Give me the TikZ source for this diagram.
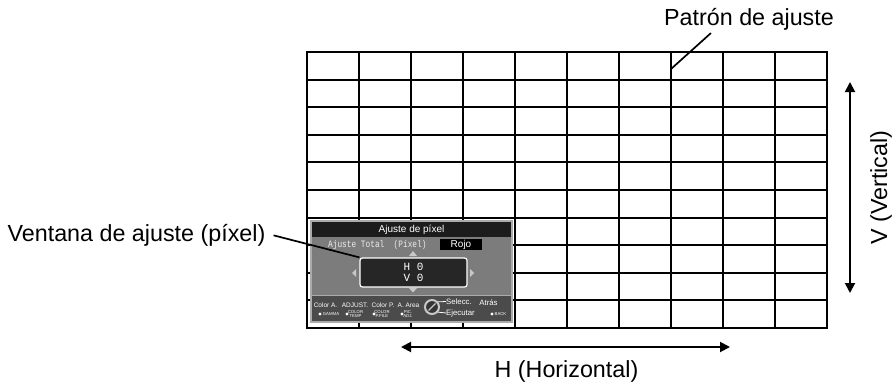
\documentclass[tikz,border=0pt]{standalone}
\usepackage{fontspec}
\setmainfont{Liberation Sans}
\setmonofont{Liberation Mono}
\usetikzlibrary{arrows.meta,positioning}
\definecolor{MenuBar}{HTML}{1C1C1C}
\definecolor{MenuBody}{HTML}{7C7C7C}
\definecolor{MenuFoot}{HTML}{4B4B4B}
\definecolor{MenuEdge}{HTML}{ABABAB}
\definecolor{MenuText}{HTML}{EDEDED}
\definecolor{MenuArrow}{HTML}{C8C8C8}
\definecolor{MenuField}{HTML}{262626}
\tikzset{
  callout/.style={font=\fontsize{23.3}{27}\selectfont,inner sep=0pt},
  leader/.style={line width=1.7pt},
  dimarrow/.style={{Triangle[length=10pt,width=10pt]}-{Triangle[length=10pt,width=10pt]},line width=1.9pt},
  gridline/.style={line width=2pt},
  menutitle/.style={text=white,font=\fontsize{10}{12}\selectfont,inner sep=0pt},
  menumono/.style={text=MenuText,font=\ttfamily\fontsize{7.8}{9}\selectfont,inner sep=0pt,yscale=1.25},
  colorbox/.style={fill=black,text=white,font=\fontsize{10}{12}\selectfont,
    minimum width=42pt,minimum height=11pt,inner sep=0pt},
  adjbox/.style={draw=white,line width=1.2pt,fill=MenuField,rounded corners=2.5pt,
    minimum width=107pt,minimum height=29pt,inner sep=0pt,align=center,
    text=white,font=\ttfamily\fontsize{11}{11}\selectfont},
  keytext/.style={text=white,font=\fontsize{6.5}{7}\selectfont,inner sep=0pt},
  keybig/.style={text=white,font=\fontsize{7.8}{9}\selectfont,inner sep=0pt},
  keysub/.style={text=white,font=\fontsize{4.3}{4.4}\selectfont,inner sep=0pt,align=center},
  dial/.style={circle,draw=MenuArrow,line width=2pt,fill=MenuFoot!70!black,
    minimum size=14pt,inner sep=0pt}
}
\begin{document}
\begin{tikzpicture}[x=1pt,y=-1pt]
  \useasboundingbox (0,0) rectangle (894,383);
  % grid pattern
  \foreach \i in {1,...,9}{
    \draw[gridline] ({307+52*\i},52) -- ({307+52*\i},328);
    \draw[gridline] (307,{52+27.6*\i}) -- (827,{52+27.6*\i});
  }
  \draw[gridline] (307,52) rectangle (827,328);
  % adjustment window
  \fill[MenuEdge] (310,220) rectangle (513,323);
  \fill[MenuBar] (312,222) rectangle (511,237);
  \fill[MenuBody] (312,237) rectangle (511,295);
  \fill[MenuFoot] (312,296) rectangle (511,321);
  \node[menutitle] (title) at (411.5,229.5) {Ajuste de píxel};
  \node[menumono,anchor=west,transform shape] (mode) at (328,245) {Ajuste Total~~(Píxel)};
  \node[colorbox] (color) at (461,244.5) {Rojo};
  \node[adjbox] (adj) at (413.5,272.5) {H 0\\V 0};
  \fill[MenuArrow] (409,256) -- (417,256) -- (413,251) -- cycle;
  \fill[MenuArrow] (409,288) -- (417,288) -- (413,292.5) -- cycle;
  \fill[MenuArrow] (356,269) -- (356,277) -- (352,273) -- cycle;
  \fill[MenuArrow] (470,269) -- (470,277) -- (474,273) -- cycle;
  % key legend
  \foreach \x/\t [count=\k] in {325.5/Color A.,355/ADJUST.,383/Color P.,408.5/A. Area}
    \node[keytext] (key\k) at (\x,305) {\t};
  \foreach \x/\t [count=\k] in {331/GAMMA,355.5/{COLOR\\TEMP},382/{COLOR\\P.FILE},408/{PIC.\\ADJ.},500.5/BACK}
    \node[keysub] (sub\k) at (\x,314) {\t};
  \foreach \x in {320,347,374,402,492}
    \fill[white] (\x,314) circle (1.7);
  \node[dial] (dial) at (432,307) {};
  \draw[MenuArrow,line width=1.2pt] ([shift={(-3.5,3.5)}]dial.center) -- ([shift={(3.5,-3.5)}]dial.center);
  \node[keybig,anchor=west] (selecc) at (446,301.5) {Selecc.};
  \node[keybig,anchor=west] (ejec) at (446,313) {Ejecutar};
  \node[keybig] (atras) at (488.5,303) {Atrás};
  \draw[white,line width=0.8pt] (dial.40) -- (selecc.west);
  \draw[white,line width=0.8pt] (dial.-40) -- (ejec.west);
  % callouts
  \node[callout,anchor=base] (patron) at (749,25) {Patrón de ajuste};
  \coordinate (patronTip) at (671,69);
  \draw[leader] ([xshift=47pt,yshift=-3pt]patron.south west) -- (patronTip);
  \node[callout,anchor=base] (ventana) at (136.5,241.5) {Ventana de ajuste (píxel)};
  \draw[leader] ([xshift=8pt]ventana.east) -- (adj.north west);
  % directions
  \coordinate (hL) at (401,347);
  \coordinate (hR) at (730,347);
  \draw[dimarrow] (hL) -- (hR);
  \node[callout,anchor=base] (hlabel) at (566.5,377) {H (Horizontal)};
  \coordinate (vT) at (850,82);
  \coordinate (vB) at (850,293);
  \draw[dimarrow] (vT) -- (vB);
  \node[callout,rotate=90] (vlabel) at (881,187.5) {V (Vertical)};
\end{tikzpicture}
\end{document}
